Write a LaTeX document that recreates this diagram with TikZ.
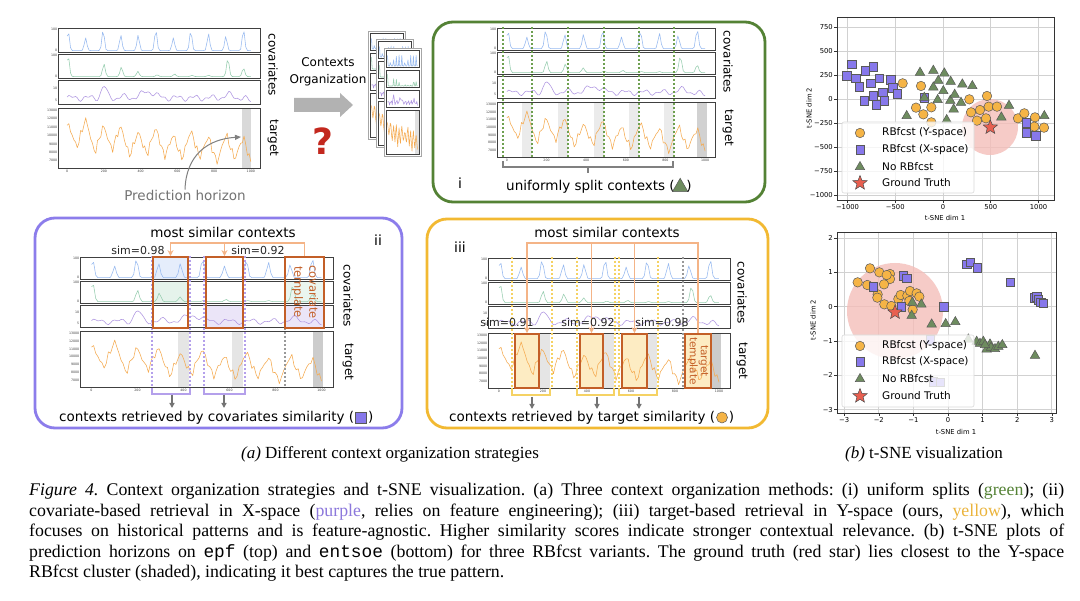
\documentclass[tikz,border=0pt]{standalone}
\usepackage{fontspec}
\setmainfont{Liberation Serif}
\newfontfamily\capfont{Liberation Serif}
\newfontfamily\cf{DejaVu Sans}
\newfontfamily\df{DejaVu Sans}
\newfontfamily\mf{Liberation Mono}
\usetikzlibrary{shapes.geometric,arrows.meta}

\definecolor{gpan}{RGB}{84,130,53}
\definecolor{ppan}{RGB}{140,125,235}
\definecolor{ypan}{RGB}{242,185,50}
\definecolor{serB}{RGB}{150,185,240}
\definecolor{serG}{RGB}{150,205,175}
\definecolor{serP}{RGB}{175,150,225}
\definecolor{serT}{RGB}{245,170,80}
\definecolor{brn}{RGB}{195,95,40}
\definecolor{lor}{RGB}{244,180,135}
\definecolor{ycol}{RGB}{245,180,70}
\definecolor{xcol}{RGB}{135,120,235}
\definecolor{ncol}{RGB}{110,140,95}
\definecolor{gtcol}{RGB}{232,95,80}
\definecolor{pinkshade}{RGB}{244,190,185}
\definecolor{qred}{RGB}{195,40,30}
\definecolor{gdotc}{RGB}{110,160,80}
\definecolor{pdotc}{RGB}{180,160,235}
\definecolor{ydotc}{RGB}{245,210,100}
\definecolor{yfill}{RGB}{253,236,195}
\definecolor{capp}{RGB}{140,120,220}
\definecolor{capy}{RGB}{235,180,60}

\tikzset{
 tsframe/.style={draw=black!75, line width=0.55pt},
 tsline/.style={line width=0.55pt, line join=round},
 tick/.style={font=\df\fontsize{3.2}{3.5}\selectfont, inner sep=0.6pt, text=black!75},
 side/.style={font=\cf\fontsize{12}{12}\selectfont, rotate=-90, inner sep=0},
 lab/.style={font=\cf\fontsize{13.5}{15}\selectfont, inner sep=0},
 simlab/.style={font=\cf\fontsize{11}{13}\selectfont, inner sep=0, text=black!85},
 panel/.style={line width=2.8pt, rounded corners=20pt},
 ctx/.style={draw=brn, line width=1.8pt, inner sep=0},
 conn/.style={draw=lor, line width=1.6pt},
 gdot/.style={line width=2pt, dash pattern=on 2pt off 2pt},
 bracket/.style={line width=1.5pt},
 garr/.style={draw=black!55, line width=1.3pt, -{Triangle[length=5pt,width=5pt]}},
 tgrid/.style={draw=black!18, line width=0.7pt},
 axframe/.style={draw=black!80, line width=0.7pt},
 axtick/.style={font=\df\fontsize{6.8}{8}\selectfont, inner sep=1pt},
 ymark/.style={circle, draw=black!65, fill=ycol, minimum size=9.5pt, inner sep=0, line width=0.5pt},
 xmark/.style={rectangle, draw=black!65, fill=xcol, minimum size=8.5pt, inner sep=0, line width=0.5pt},
 nmark/.style={regular polygon, regular polygon sides=3, draw=black!65, fill=ncol, minimum size=11pt, inner sep=0, line width=0.5pt},
 gtmark/.style={star, star points=5, star point ratio=2.3, draw=black!70, fill=gtcol, minimum size=15pt, inner sep=0, line width=0.5pt},
 legtext/.style={font=\cf\fontsize{10.5}{12}\selectfont, anchor=west, inner sep=0},
 legbox/.style={draw=black!15, fill=white, fill opacity=0.8, rounded corners=2pt, line width=0.6pt},
 capl/.style={font=\capfont\fontsize{17.8}{21}\selectfont\frenchspacing, inner sep=0, anchor=base west},
}

\newcommand\tssamples{110}
% left right top hc pitch ttop tbot
\newcommand\tsgroup[7]{%
 \foreach \k/\fn/\sc in {0/fB/serB,1/fG/serG,2/fP/serP}{%
   \draw[tsframe] ({#1},{(#3)+\k*(#5)}) rectangle ({#2},{(#3)+\k*(#5)+(#4)});
   \draw[tsline,\sc] plot[domain=0:10,samples=\tssamples] ({(#1)+((#2)-(#1))*(\x+0.5)/11},{(#3)+\k*(#5)+(#4)-(#4)*(0.06+0.88*max(0,min(1,\fn(\x))))});
 }
 \draw[tsframe] ({#1},{#6}) rectangle ({#2},{#7});
 \draw[tsline,serT] plot[domain=0:10,samples=\tssamples] ({(#1)+((#2)-(#1))*(\x+0.5)/11},{(#7)-((#7)-(#6))*(0.06+0.88*max(0,min(1,fT(\x))))});
}
\newcommand\tslabels[8]{%
 \foreach \k in {0,1}{%
   \node[tick,anchor=east] (#8a\k) at ({#1},{(#3)+\k*(#5)+0.06*(#4)}) {100};
   \node[tick,anchor=east] (#8b\k) at ({#1},{(#3)+\k*(#5)+0.94*(#4)}) {0};
 }
 \node[tick,anchor=east] (#8c) at ({#1},{(#3)+2*(#5)+0.35*(#4)}) {10};
 \node[tick,anchor=east] (#8d) at ({#1},{(#3)+2*(#5)+0.85*(#4)}) {5};
 \foreach \v [count=\i] in {13000,12000,11000,10000,9000,8000,7000}{%
   \node[tick,anchor=east] (#8t\i) at ({#1},{(#6)+((#7)-(#6))*(0.04+0.14*(\i-1))}) {\v};
 }
 \foreach \v [count=\i] in {0,200,400,600,800,1000}{%
   \node[tick,anchor=north] (#8x\i) at ({(#1)+((#2)-(#1))*(2*\i-1.5)/11},{(#7)+1}) {\v};
 }
}
\newcommand\ctxpage[2]{%
 \fill[white] ({#1},{#2}) rectangle ++(37,108);
 \fill[black!12] ({(#1)+31},{(#2)+62}) rectangle ({(#1)+35},{(#2)+106});
 \tsgroup{(#1)+2}{(#1)+35}{(#2)+2}{17}{20}{(#2)+62}{(#2)+106}
 \draw[black!35, line width=0.6pt] ({#1},{#2}) rectangle ++(37,108);
}
\newcommand\capline[1]{\hbox to 1035pt{#1}}

\begin{document}
\begin{tikzpicture}[x=1pt,y=-1pt,declare function={
  bmp(\xa,\ca,\wa)=exp(-min(((\xa-\ca)/\wa)^2,30));
  fB(\xa)=(0.5+0.5*cos(377*(\xa-0.05)))^10*(0.8+0.2*sin(230*\xa+30));
  fG(\xa)=bmp(\xa,0.05,0.1)+0.6*bmp(\xa,2,0.1)+0.45*bmp(\xa,2.95,0.1)+0.25*bmp(\xa,3.85,0.1)+0.08*bmp(\xa,4.9,0.1)+0.12*bmp(\xa,5.85,0.1)+0.06*bmp(\xa,6.8,0.1)+0.06*bmp(\xa,7.7,0.1)+0.85*bmp(\xa,8.75,0.1)+0.4*bmp(\xa,9.6,0.1);
  fP(\xa)=0.22+0.1*sin(377*\xa)+0.07*sin(820*\xa+40)+0.55*bmp(\xa,2,0.2)+0.3*bmp(\xa,4.4,0.5)+0.15*bmp(\xa,8.8,0.3)+0.08*bmp(\xa,3,0.15)-0.15*bmp(\xa,10,0.25);
  fT(\xa)=0.52-0.025*\xa+0.2*sin(377*(\xa-0.76))+0.06*sin(1130*\xa)+0.04*sin(1530*\xa+50)+0.05*sin(170*\xa)+0.12*bmp(\xa,1.1,0.35)+0.05*bmp(\xa,2.1,0.3);
}]
\useasboundingbox (0,0) rectangle (1080,601);
\fill[white] (0,0) rectangle (1080,601);

% ================= top-left: raw series =================
\fill[black!15] (242,108) rectangle (251,168);
\tsgroup{58}{260}{28}{24}{26}{108}{168}
\tslabels{58}{260}{28}{24}{26}{108}{168}{tl}
\node[side] (tlcov) at (273,65) {covariates};
\node[side] (tltar) at (273,138) {target};
\node[lab, text=black!55] (ph) at (185,195) {Prediction horizon};
\coordinate (phe) at (241,137);
\draw[black!50, line width=1pt, -{Triangle[length=6pt,width=5pt]}] (ph.north) .. controls (186,155) and (208,139) .. (phe);

% contexts organization
\node[font=\cf\fontsize{12}{17}\selectfont, align=center, inner sep=0] (co) at (328,72) {Contexts\\Organization};
\fill[black!30] (294,98) -- (340,98) -- (340,93) -- (353,105) -- (340,117) -- (340,112) -- (294,112) -- cycle;
\node[font=\cf\bfseries\fontsize{36}{36}\selectfont, text=qred, inner sep=0] (q) at (323,141) {?};
\renewcommand\tssamples{45}
\ctxpage{368}{31}
\ctxpage{376}{39}
\ctxpage{384}{48}
\renewcommand\tssamples{110}

% ================= panel i (green) =================
\draw[panel, gpan] (433,22) rectangle (765,202);
\foreach \bx in {532,568,604,639,674} \fill[black!8] ({\bx-10},102) rectangle (\bx,157);
\fill[black!18] (697,102) rectangle (707,157);
\tsgroup{497}{715}{28}{22}{24}{102}{157}
\tslabels{497}{715}{28}{22}{24}{102}{157}{gr}
\foreach \dx in {503,532,568,604,639,674} \draw[gdot, gdotc] (\dx,27) -- (\dx,158);
\node[side] (gcov) at (728,62) {covariates};
\node[side] (gtar) at (728,128) {target};
\draw[bracket, black!50] (503,161) -- (503,167) -- (673,167) -- (673,161);
\draw[bracket, black!50] (588,167) -- (588,173);
\node[lab, font=\cf\fontsize{14}{14}\selectfont] (gi) at (460,183) {i};
\node[lab, anchor=base west] (u1) at (506,191) {uniformly split contexts (};
\node[nmark, minimum size=18pt, anchor=south west] (u2) at ([xshift=0.5pt,yshift=-1pt]u1.base east) {};
\node[lab, anchor=base west, xshift=0.5pt] (u3) at (u2.east |- u1.base east) {)};

% ================= panel ii (purple) =================
\draw[panel, ppan] (35,218) rectangle (402,428);
\fill[black!10] (178,331) rectangle (189,387);
\fill[black!10] (232,331) rectangle (243,387);
\fill[black!20] (313,331) rectangle (323,387);
\fill[serB!25] (153,257) rectangle (188,279);
\fill[serG!25] (153,281) rectangle (188,303);
\fill[serP!25] (206,305) rectangle (243,327);
\fill[serG!20] (285,281) rectangle (324,303);
\fill[serP!25] (285,305) rectangle (324,327);
\tsgroup{80}{333}{257}{22}{24}{331}{387}
\tslabels{80}{333}{257}{22}{24}{331}{387}{pu}
\foreach \dx in {152,190,204,245} \draw[gdot, pdotc] (\dx,256) -- (\dx,388);
\draw[gdot, black!40] (285,328) -- (285,388);
\node[ctx, minimum width=35pt, minimum height=71pt] (b1) at (170.5,292.5) {};
\node[ctx, minimum width=37pt, minimum height=71pt] (b2) at (224.5,292.5) {};
\node[ctx, minimum width=39pt, minimum height=71pt] (b3) at (304.5,292.5) {};
\node[font=\cf\fontsize{11.5}{15}\selectfont, text=brn, rotate=-90, align=center, inner sep=0] (b3t) at (305,292) {covariate\\template};
\coordinate (pj) at (304.5,243);
\draw[conn, -{Stealth[length=6pt,width=6pt]}] (b3.north) |- (b1.north |- pj) -- (b1.north);
\draw[conn, -{Stealth[length=6pt,width=6pt]}] (b2.north |- pj) -- (b2.north);
\node[lab] (pms) at (223,232) {most similar contexts};
\node[simlab] (ps1) at (138,250) {sim=0.98};
\node[simlab] (ps2) at (258,250) {sim=0.92};
\node[lab, font=\cf\fontsize{14}{14}\selectfont] (pii) at (378,240) {ii};
\node[side] (pcov) at (348,296) {covariates};
\node[side] (ptar) at (348,362) {target};
\draw[bracket, pdotc] (152,388) -- (152,394) -- (190,394) -- (190,388);
\draw[bracket, pdotc] (204,388) -- (204,394) -- (245,394) -- (245,388);
\coordinate (pa1) at (172,395); \coordinate (pa1e) at (172,408);
\coordinate (pa2) at (224,395); \coordinate (pa2e) at (224,408);
\draw[garr] (pa1) -- (pa1e);
\draw[garr] (pa2) -- (pa2e);
\node[lab, anchor=base west] (v1) at (59,422) {contexts retrieved by covariates similarity (};
\node[xmark, minimum size=11pt, anchor=west] (v2) at ([xshift=1pt,yshift=4.5pt]v1.base east) {};
\node[lab, anchor=base west, xshift=1pt] (v3) at (v2.east |- v1.base east) {)};

% ================= panel iii (yellow) =================
\draw[panel, ypan] (427,219) rectangle (768,428);
\foreach \bx/\ex in {539/550,603/614,647/657} \fill[black!10] (\bx,333) rectangle (\ex,388);
\fill[black!20] (711,333) rectangle (721,388);
\foreach \bx/\ex in {515/539,580/603,622/647,685/711} \fill[yfill] (\bx,334) rectangle (\ex,388);
\tsgroup{488}{730}{258}{22}{24}{333}{388}
\tslabels{488}{730}{258}{22}{24}{333}{388}{ye}
\foreach \dx in {512,552,577,615,619,658} \draw[gdot, ydotc] (\dx,257) -- (\dx,389);
\draw[gdot, black!40] (683,257) -- (683,389);
\node[ctx, minimum width=24pt, minimum height=54pt] (c1) at (527,361) {};
\node[ctx, minimum width=23pt, minimum height=54pt] (c2) at (591.5,361) {};
\node[ctx, minimum width=25pt, minimum height=54pt] (c3) at (634.5,361) {};
\node[ctx, minimum width=26pt, minimum height=54pt] (c4) at (698,361) {};
\node[font=\cf\fontsize{10.5}{11}\selectfont, text=brn, rotate=-90, align=center, inner sep=0] (c4t) at (698,361) {target\\template};
\coordinate (yj) at (698,243);
\draw[conn, -{Stealth[length=6pt,width=6pt]}] (c4.north) |- (c1.north |- yj) -- (c1.north);
\draw[conn, -{Stealth[length=6pt,width=6pt]}] (c2.north |- yj) -- (c2.north);
\draw[conn, -{Stealth[length=6pt,width=6pt]}] (c3.north |- yj) -- (c3.north);
\node[lab] (yms) at (607,232) {most similar contexts};
\node[simlab] (ys1) at (507,322) {sim=0.91};
\node[simlab] (ys2) at (588,322) {sim=0.92};
\node[simlab] (ys3) at (662,322) {sim=0.98};
\node[lab, font=\cf\fontsize{14}{14}\selectfont] (yiii) at (460,247) {iii};
\node[side] (ycov) at (742,293) {covariates};
\node[side] (ytar) at (742,361) {target};
\draw[bracket, ydotc] (512,388) -- (512,395) -- (550,395) -- (550,388);
\draw[bracket, ydotc] (577,388) -- (577,395) -- (614,395) -- (614,388);
\draw[bracket, ydotc] (619,388) -- (619,395) -- (657,395) -- (657,388);
\coordinate (ya1) at (532,397); \coordinate (ya1e) at (532,409);
\coordinate (ya2) at (597,397); \coordinate (ya2e) at (597,409);
\coordinate (ya3) at (639,397); \coordinate (ya3e) at (639,409);
\draw[garr] (ya1) -- (ya1e);
\draw[garr] (ya2) -- (ya2e);
\draw[garr] (ya3) -- (ya3e);
\node[lab, anchor=base west] (w1) at (449,422) {contexts retrieved by target similarity (};
\node[ymark, minimum size=11pt, anchor=west] (w2) at ([xshift=1pt,yshift=4.5pt]w1.base east) {};
\node[lab, anchor=base west, xshift=1pt] (w3) at (w2.east |- w1.base east) {)};

% ================= t-SNE top =================
\foreach \v in {-1000,-500,0,500,1000} \draw[tgrid] ({943+0.0955*\v},17) -- ({943+0.0955*\v},200);
\foreach \v in {-1000,-750,-500,-250,0,250,500,750} \draw[tgrid] (837,{99-0.096*\v}) -- (1054,{99-0.096*\v});
\fill[pinkshade, opacity=0.8] (990,127) circle[radius=28];
\begin{scope}[shift={(790,20)}, scale=1/3]
\foreach \px/\py [count=\i] in {338/190,393/198,378/263,400/283,424/262,424/307,538/238,591/228,543/277,570/270,596/260,621/260,561/302,588/295,684/295,703/280,735/292,733/320,762/323}
  \node[ymark] (ty\i) at (\px,\py) {};
\foreach \px/\py [count=\i] in {185/133,170/167,250/140,225/153,197/175,267/175,242/190,208/200,302/180,308/203,322/222,278/217,250/228,222/243,283/242,258/255,402/233,708/308,708/338,737/348}
  \node[xmark] (tx\i) at (\px,\py) {};
\foreach \px/\py [count=\i] in {390/158,430/152,463/160,445/182,482/185,430/202,460/213,403/233,443/240,481/242,494/224,517/193,547/198,513/248,491/268,350/288,470/300,657/257,634/292,763/288}
  \node[nmark] (tn\i) at (\px,\py) {};
\node[gtmark] (tgt) at (601,322) {};
\end{scope}
\draw[axframe] (837,17) rectangle (1054,200);
\foreach \v/\l in {-1000/−1000,-500/−500,0/0,500/500,1000/1000}{
  \draw[black!80, line width=0.6pt] ({943+0.0955*\v},200) -- ({943+0.0955*\v},203);
  \node[axtick, anchor=north] (txl\v) at ({943+0.0955*\v},203) {\l};
}
\foreach \v/\l in {750/750,500/500,250/250,0/0,-250/−250,-500/−500,-750/−750,-1000/−1000}{
  \draw[black!80, line width=0.6pt] (834,{99-0.096*\v}) -- (837,{99-0.096*\v});
  \node[axtick, anchor=east] (tyl\v) at (834,{99-0.096*\v}) {\l};
}
\node[axtick] (txlab) at (945,218) {t-SNE dim 1};
\node[axtick, rotate=90] (tylab) at (809,108) {t-SNE dim 2};
\draw[legbox] (842,122) rectangle (974,193);
\node[ymark] (tl1m) at (860,133) {}; \node[legtext] (tl1) at (882,133) {RBfcst (Y-space)};
\node[xmark] (tl2m) at (860,150) {}; \node[legtext] (tl2) at (882,150) {RBfcst (X-space)};
\node[nmark] (tl3m) at (860,167) {}; \node[legtext] (tl3) at (882,167) {No RBfcst};
\node[gtmark] (tl4m) at (860,183) {}; \node[legtext] (tl4) at (882,183) {Ground Truth};

% ================= t-SNE bottom =================
\foreach \v in {-3,-2,-1,0,1,2,3} \draw[tgrid] ({948+34.6*\v},232) -- ({948+34.6*\v},413);
\foreach \v in {-3,-2,-1,0,1,2} \draw[tgrid] (837,{306.7-34.3*\v}) -- (1056,{306.7-34.3*\v});
\fill[pinkshade, opacity=0.8] (895,311) circle[radius=48];
\begin{scope}[shift={(790,225)}, scale=1/3]
\foreach \px/\py [count=\i] in {240/130,268/142,300/147,300/162,290/150,203/172,232/180,282/178,263/208,262/218,283/238,304/243,325/222,332/210,352/212,360/198,380/205,388/215,358/228,368/254}
  \node[ymark] (by\i) at (\px,\py) {};
\foreach \px/\py [count=\i] in {530/118,541/112,561/128,660/172,250/185,340/152,350/160,334/246,461/245,733/218,740/215,745/225,752/232,760/235,420/345,430/470,450/472}
  \node[xmark] (bx\i) at (\px,\py) {};
\foreach \px/\py [count=\i] in {367/233,394/238,365/272,425/298,467/297,496/291,535/343,560/350,570/356,580/350,590/373,600/358,603/368,615/372,625/365,637/360,585/360,735/392}
  \node[nmark] (bn\i) at (\px,\py) {};
\node[gtmark] (bgt) at (315,262) {};
\end{scope}
\draw[axframe] (837,232) rectangle (1056,413);
\foreach \v/\l in {-3/−3,-2/−2,-1/−1,0/0,1/1,2/2,3/3}{
  \draw[black!80, line width=0.6pt] ({948+34.6*\v},413) -- ({948+34.6*\v},416);
  \node[axtick, anchor=north] (bxl\v) at ({948+34.6*\v},416) {\l};
}
\foreach \v/\l in {2/2,1/1,0/0,-1/−1,-2/−2,-3/−3}{
  \draw[black!80, line width=0.6pt] (834,{306.7-34.3*\v}) -- (837,{306.7-34.3*\v});
  \node[axtick, anchor=east] (byl\v) at (834,{306.7-34.3*\v}) {\l};
}
\node[axtick] (bxlab) at (956,432) {t-SNE dim 1};
\node[axtick, rotate=90] (bylab) at (813,320) {t-SNE dim 2};
\draw[legbox] (842,335) rectangle (974,407);
\node[ymark] (bl1m) at (860,346) {}; \node[legtext] (bl1) at (882,346) {RBfcst (Y-space)};
\node[xmark] (bl2m) at (860,362) {}; \node[legtext] (bl2) at (882,362) {RBfcst (X-space)};
\node[nmark] (bl3m) at (860,379) {}; \node[legtext] (bl3) at (882,379) {No RBfcst};
\node[gtmark] (bl4m) at (860,396) {}; \node[legtext] (bl4) at (882,396) {Ground Truth};

% ================= captions =================
\node[capl, anchor=base, font=\capfont\fontsize{17}{20}\selectfont] (capa) at (390,458.5) {\textit{(a)} Different context organization strategies};
\node[capl, anchor=base, font=\capfont\fontsize{17}{20}\selectfont] (capb) at (924,458.5) {\textit{(b)} t-SNE visualization};
\node[capl] (cl1) at (29,496) {\capline{\textit{Figure 4.} Context organization strategies and t-SNE visualization. (a) Three context organization methods: (i) uniform splits (\textcolor{gpan}{green}); (ii)}};
\node[capl] (cl2) at (29,516.5) {\capline{covariate-based retrieval in X-space (\textcolor{capp}{purple}, relies on feature engineering); (iii) target-based retrieval in Y-space (ours, \textcolor{capy}{yellow}), which}};
\node[capl] (cl3) at (29,537) {\capline{focuses on historical patterns and is feature-agnostic. Higher similarity scores indicate stronger contextual relevance. (b) t-SNE plots of}};
\node[capl] (cl4) at (29,557.5) {\capline{prediction horizons on {\mf epf} (top) and {\mf entsoe} (bottom) for three RBfcst variants. The ground truth (red star) lies closest to the Y-space}};
\node[capl] (cl5) at (29,578) {RBfcst cluster (shaded), indicating it best captures the true pattern.};
\end{tikzpicture}
\end{document}
